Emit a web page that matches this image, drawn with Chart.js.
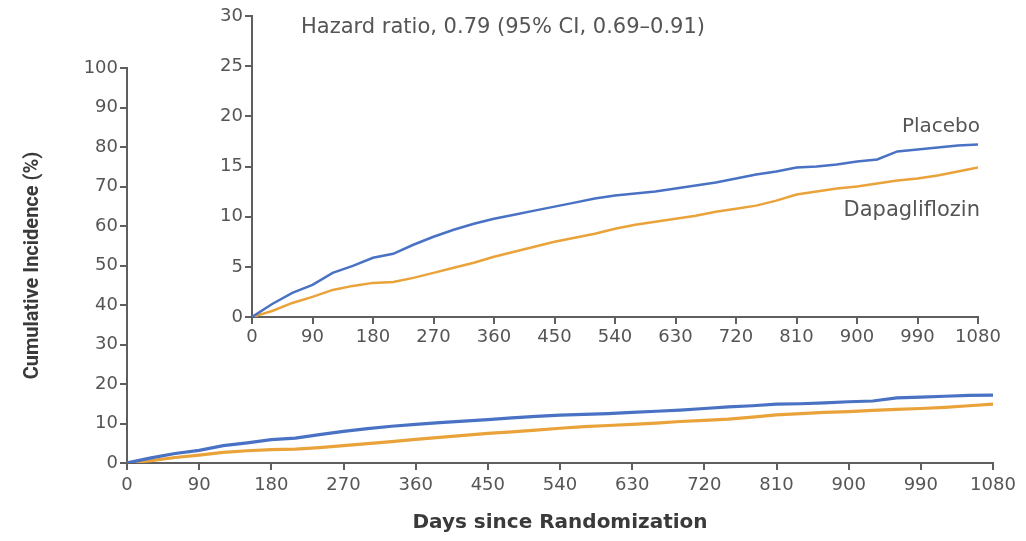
<!DOCTYPE html>
<html>
<head>
<meta charset="utf-8">
<script src="https://cdn.jsdelivr.net/npm/chart.js@4/dist/chart.umd.min.js"></script>
<style>
  html, body { margin: 0; padding: 0; background: #fff; }
  #wrap { position: relative; width: 1026px; height: 541px; }
  #mainChart { position: absolute; left: 0; top: 0; }
  #insetChart { position: absolute; left: 190px; top: 0; }
</style>
</head>
<body>
<div id="wrap">
  <canvas id="mainChart" width="1026" height="541"></canvas>
  <canvas id="insetChart" width="836" height="352"></canvas>
</div>
<script>
// Daten
const days = [0, 30, 60, 90, 120, 150, 180, 210, 240, 270, 300, 330, 360, 390, 420, 450, 480, 510, 540,
  570, 600, 630, 660, 690, 720, 750, 780, 810, 840, 870, 900, 930, 960, 990, 1020, 1050, 1080];
const placebo = [0, 1.3, 2.4, 3.2, 4.4, 5.1, 5.9, 6.3, 7.2, 8.0, 8.7, 9.3, 9.8, 10.2, 10.6, 11.0, 11.4, 11.8, 12.1,
  12.3, 12.5, 12.8, 13.1, 13.4, 13.8, 14.2, 14.5, 14.9, 15.0, 15.2, 15.5, 15.7, 16.5, 16.7, 16.9, 17.1, 17.2];
const dapagliflozin = [0, 0.6, 1.4, 2.0, 2.7, 3.1, 3.4, 3.5, 3.9, 4.4, 4.9, 5.4, 6.0, 6.5, 7.0, 7.5, 7.9, 8.3, 8.8,
  9.2, 9.5, 9.8, 10.1, 10.5, 10.8, 11.1, 11.6, 12.2, 12.5, 12.8, 13.0, 13.3, 13.6, 13.8, 14.1, 14.5, 14.9];
const xTicks = [0, 90, 180, 270, 360, 450, 540, 630, 720, 810, 900, 990, 1080];
const mainYTicks = [0, 10, 20, 30, 40, 50, 60, 70, 80, 90, 100];
const insetYTicks = [0, 5, 10, 15, 20, 25, 30];
const hazardText = 'Hazard ratio, 0.79 (95% CI, 0.69\u20130.91)';

const BLUE = '#4a72c4';
const ORANGE = '#e9a33a';
const AXIS = '#5f5f5f';
const TEXT = '#555555';
const FONT = "'DejaVu Sans', 'Open Sans', sans-serif";

const toPoints = (arr) => arr.map((v, i) => ({ x: days[i], y: v }));

const makeDatasets = (width) => [
  { label: 'Placebo', data: toPoints(placebo), borderColor: BLUE, borderWidth: width,
    pointRadius: 0, tension: 0, fill: false },
  { label: 'Dapagliflozin', data: toPoints(dapagliflozin), borderColor: ORANGE, borderWidth: width,
    pointRadius: 0, tension: 0, fill: false }
];

// gemeinsame Achsen-Optionen
const axisStyle = (ticksArr, extra) => Object.assign({
  type: 'linear',
  min: ticksArr[0],
  max: ticksArr[ticksArr.length - 1],
  grid: { drawOnChartArea: false, drawTicks: true, tickLength: 7, color: AXIS, lineWidth: 2 },
  border: { display: true, color: AXIS, width: 2 },
  afterBuildTicks: (scale) => { scale.ticks = ticksArr.map(v => ({ value: v })); },
}, extra);

const tickFont = { family: FONT, size: 18 };
const plainLabel = (v) => String(v);

// 1. Hauptgrafik (0-100 %)
new Chart(document.getElementById('mainChart'), {
  type: 'line',
  data: { datasets: makeDatasets(3.2) },
  options: {
    responsive: false,
    animation: false,
    layout: { padding: { top: 68, right: 33, left: 0, bottom: 0 } },
    plugins: { legend: { display: false }, tooltip: { enabled: false } },
    scales: {
      x: axisStyle(xTicks, {
        ticks: { color: TEXT, font: tickFont, padding: 5, maxRotation: 0, autoSkip: false, callback: plainLabel },
        title: { display: true, text: 'Days since Randomization', color: '#3a3a3a',
          font: { family: FONT, size: 20, weight: 'bold' }, padding: { top: 0, bottom: 6 } },
        afterFit: (scale) => { scale.height = 78; }
      }),
      y: axisStyle(mainYTicks, {
        ticks: { color: TEXT, font: tickFont, padding: 2, callback: plainLabel },
        title: { display: true, text: 'Cumulative Incidence (%)', color: '#3a3a3a',
          font: { family: "'Liberation Sans Narrow', 'Roboto', sans-serif", size: 20, weight: 'bold' },
          padding: { top: 21, bottom: 0 } },
        afterFit: (scale) => { scale.width = 127; }
      })
    }
  }
});

// Beschriftungen im Einschub
const insetLabels = {
  id: 'insetLabels',
  afterDraw(chart) {
    const { ctx, chartArea, scales } = chart;
    ctx.save();
    ctx.fillStyle = TEXT;
    ctx.font = "21px " + FONT;
    ctx.textBaseline = 'middle';
    ctx.textAlign = 'left';
    ctx.fillText(hazardText, chartArea.left + 49, chartArea.top + 12);
    ctx.font = "20px " + FONT;
    ctx.textAlign = 'right';
    const xEnd = scales.x.getPixelForValue(days[days.length - 1]) + 2;
    ctx.fillText('Placebo', xEnd, scales.y.getPixelForValue(placebo[placebo.length - 1]) - 18);
    ctx.font = "21px " + FONT;
    ctx.fillText('Dapagliflozin', xEnd, scales.y.getPixelForValue(dapagliflozin[dapagliflozin.length - 1]) + 43);
    ctx.restore();
  }
};

// 2. Einschub (0-30 %)
new Chart(document.getElementById('insetChart'), {
  type: 'line',
  data: { datasets: makeDatasets(2.5) },
  options: {
    responsive: false,
    animation: false,
    layout: { padding: { top: 16, right: 48, left: 0, bottom: 0 } },
    plugins: { legend: { display: false }, tooltip: { enabled: false } },
    scales: {
      x: axisStyle(xTicks, {
        ticks: { color: TEXT, font: tickFont, padding: 3, maxRotation: 0, autoSkip: false, callback: plainLabel },
        afterFit: (scale) => { scale.height = 35; }
      }),
      y: axisStyle(insetYTicks, {
        ticks: { color: TEXT, font: tickFont, padding: 2, callback: plainLabel },
        afterFit: (scale) => { scale.width = 62; }
      })
    }
  },
  plugins: [insetLabels]
});
</script>
</body>
</html>
